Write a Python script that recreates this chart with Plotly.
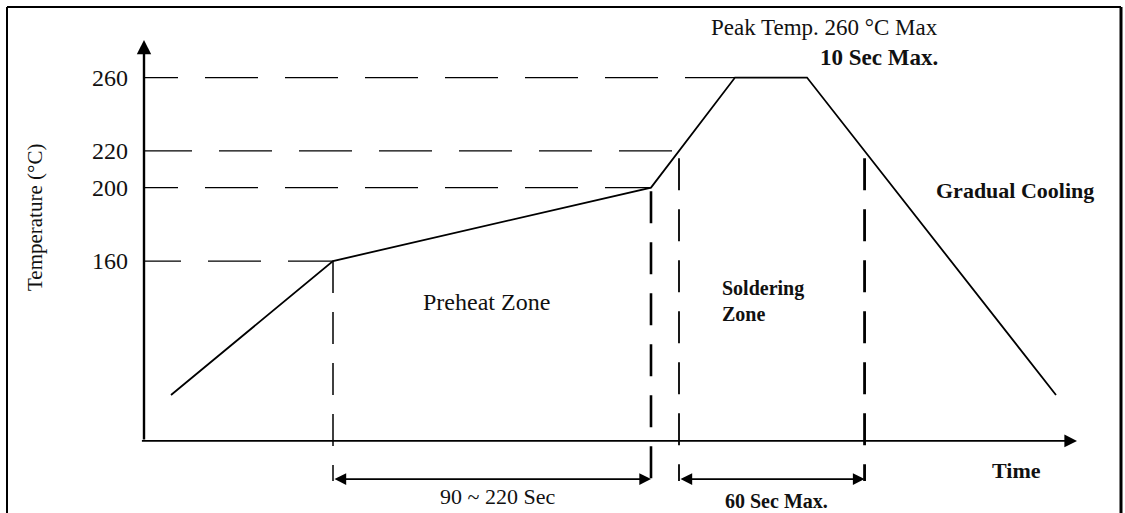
import numpy as np
import plotly.graph_objects as go

# ---------------- data (schematic reflow profile) ----------------
profile_time = [9, 63, 169, 197, 221, 304]      # schematic time units
profile_temp = [87, 160, 200, 260, 260, 87]     # °C
level_temps = [160, 200, 220, 260]
level_labels = ["160", "200", "220", "260"]
preheat_label = "90 ~ 220 Sec"
soldering_label = "60 Sec Max."
peak_label_1 = "Peak Temp. 260 °C Max"
peak_label_2 = "10 Sec Max."

# ---------------- derived geometry ----------------
asc_t = profile_time[:4]
asc_T = profile_temp[:4]
desc_t = profile_time[4:][::-1]
desc_T = profile_temp[4:][::-1]

def asc_cross(T):
    return float(np.interp(T, asc_T, asc_t))

def desc_cross(T):
    return float(np.interp(T, desc_T, desc_t))

t_pre_start = asc_cross(160)
t_pre_end = asc_cross(200)
t_sol_start = asc_cross(220)
t_sol_end = desc_cross(220)

X_RANGE = [-48, 327]
Y_RANGE = [22.7, 302.26]
AXIS_T0 = 62      # temperature where the time axis sits
AXIS_TOP = 280.5
AXIS_XEND = 311
DIM_T = 41.2      # level of the dimension arrows

FONT = "Liberation Serif, Times New Roman, serif"
BLACK = "#000000"


def dash_pattern(first, dash=53, gap=27, n=14):
    parts = [f"{first}px", f"{gap}px"]
    for _ in range(n):
        parts += [f"{dash}px", f"{gap}px"]
    return ",".join(parts)


first_dash = {160: 37, 200: 34, 220: 48, 260: 34}

fig = go.Figure()

# horizontal dashed guide lines
for T in level_temps:
    fig.add_trace(go.Scatter(
        x=[0, asc_cross(T)], y=[T, T], mode="lines",
        line=dict(color=BLACK, width=1.3, dash=dash_pattern(first_dash[T])),
        hoverinfo="skip", showlegend=False))

# vertical dashed guide lines
verticals = [
    (t_pre_start, 160, 1.5),
    (t_pre_end, 198, 2.6),
    (t_sol_start, 216, 1.8),
    (t_sol_end, 216, 2.8),
]
for t, T_top, w in verticals:
    fig.add_trace(go.Scatter(
        x=[t, t], y=[T_top, DIM_T - 1], mode="lines",
        line=dict(color=BLACK, width=w, dash="32px,19px"),
        hoverinfo="skip", showlegend=False))

# the profile curve
fig.add_trace(go.Scatter(
    x=profile_time, y=profile_temp, mode="lines",
    line=dict(color=BLACK, width=1.8),
    hoverinfo="skip", showlegend=False))

annotations = []

# axes with arrows
annotations.append(dict(x=0, y=AXIS_TOP, ax=0, ay=AXIS_T0, xref="x", yref="y",
                        axref="x", ayref="y", text="", showarrow=True,
                        arrowhead=2, arrowsize=1.2, arrowwidth=2.4, arrowcolor=BLACK))
annotations.append(dict(x=AXIS_XEND, y=AXIS_T0, ax=-1.2, ay=AXIS_T0, xref="x", yref="y",
                        axref="x", ayref="y", text="", showarrow=True,
                        arrowhead=2, arrowsize=1.4, arrowwidth=1.8, arrowcolor=BLACK))

# dimension arrows
for a, b in [(t_pre_start, t_pre_end), (t_sol_start, t_sol_end)]:
    annotations.append(dict(x=b, y=DIM_T, ax=a, ay=DIM_T, xref="x", yref="y",
                            axref="x", ayref="y", text="", showarrow=True,
                            arrowhead=2, arrowside="end+start", arrowsize=1.3,
                            arrowwidth=1.8, arrowcolor=BLACK))


def label(text, x, y, size=22, xanchor="center", weight="normal", angle=0, align="center"):
    annotations.append(dict(x=x, y=y, xref="x", yref="y", text=text, showarrow=False,
                            xanchor=xanchor, yanchor="middle", textangle=angle, align=align,
                            font=dict(family=FONT, size=size, color="#111111", weight=weight)))


label(peak_label_1, 265.3, 287.5, size=23, xanchor="right")
label(peak_label_2, 265.3, 270.7, size=23, xanchor="right", weight="bold")
label("Gradual Cooling", 290.3, 198.7, size=22, weight="bold")
label("Preheat Zone", 114.3, 137.7, size=24)
label("Soldering<br>Zone", 192, 138, size=20, xanchor="left", weight="bold", align="left")
label("Time", 290.7, 46.1, size=22, weight="bold")
label(preheat_label, 117.7, 31.5, size=22)
label(soldering_label, 210.7, 29, size=20, weight="bold")
label("Temperature (°C)", -36.3, 183.5, size=21, angle=-90)

# outer frame (left, top, right)
shapes = [
    dict(type="line", xref="paper", yref="paper", x0=7/1125, x1=7/1125, y0=0, y1=1-7/513,
         line=dict(color=BLACK, width=2)),
    dict(type="line", xref="paper", yref="paper", x0=7/1125, x1=1121/1125, y0=1-7/513, y1=1-7/513,
         line=dict(color=BLACK, width=2)),
    dict(type="line", xref="paper", yref="paper", x0=1121/1125, x1=1121/1125, y0=0, y1=1-7/513,
         line=dict(color=BLACK, width=3)),
]

fig.update_layout(
    width=1125, height=513,
    margin=dict(l=0, r=0, t=0, b=0),
    paper_bgcolor="white", plot_bgcolor="white",
    showlegend=False,
    annotations=annotations,
    shapes=shapes,
    xaxis=dict(range=X_RANGE, visible=False, fixedrange=True),
    yaxis=dict(range=Y_RANGE, anchor="free", position=144/1125,
               showline=False, showgrid=False, zeroline=False, ticks="",
               tickvals=level_temps, ticktext=level_labels,
               ticklabelstandoff=16,
               tickfont=dict(family=FONT, size=24, color="#111111"),
               fixedrange=True),
)

fig.write_html("out.html", config={"displayModeBar": False},
               post_script="document.body.style.margin='0';document.body.style.overflow='hidden';")
